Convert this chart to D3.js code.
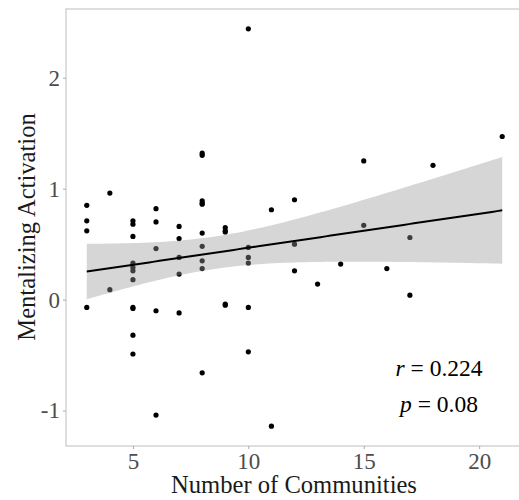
<!DOCTYPE html>
<html>
<head>
  <meta charset="utf-8">
  <title>mentalizing scatter</title>
  <style>
    body { margin: 0; background: #fff; }
    text { font-family: "Liberation Serif", "DejaVu Serif", serif; }
  </style>
</head>
<body>
  <div id="chart"></div>
  <script src="https://cdn.jsdelivr.net/npm/d3@7"></script>
  <script type="text/javascript">
    // number of communities per subject, and mentalizing activation
    var communities = [3, 3, 3, 3,
      4, 4,
      5, 5, 5, 5, 5, 5, 5, 5, 5, 5, 5,
      6, 6, 6, 6, 6,
      7, 7, 7, 7, 7,
      8, 8, 8, 8, 8, 8, 8, 8, 8, 8,
      9, 9, 9, 9, 9,
      10, 10, 10, 10, 10, 10,
      11, 11,
      12, 12, 12,
      13, 14, 15, 15, 16, 17, 17, 18, 21];
    var activation = [0.85, 0.71, 0.62, -0.07,
      0.96, 0.09,
      0.71, 0.68, 0.57, 0.33, 0.29, 0.26, 0.18, -0.07, -0.08, -0.32, -0.49,
      0.82, 0.70, 0.46, -0.10, -1.04,
      0.66, 0.55, 0.38, 0.23, -0.12,
      1.32, 1.30, 0.89, 0.87, 0.86, 0.60, 0.48, 0.35, 0.28, -0.66,
      0.65, 0.62, 0.61, -0.04, -0.05,
      2.44, 0.47, 0.38, 0.33, -0.07, -0.47,
      0.81, -1.14,
      0.90, 0.50, 0.26,
      0.14, 0.32, 1.25, 0.67, 0.28, 0.56, 0.04, 1.21, 1.47];
    var xTicks = [5, 10, 15, 20];
    var yTicks = [-1, 0, 1, 2];
    var statLines = [["r", "0.224"], ["p", "0.08"]];

    var w = 519;
    var h = 500;
    var pLeft = 66, pTop = 9, pBottom = 446, pRight = 523;

    var svg = d3.select("#chart")
      .append("svg")
      .attr("width", w)
      .attr("height", h);

    // ggplot-like 5% expansion
    var xr = d3.extent(communities), yr = d3.extent(activation);
    var xe = (xr[1] - xr[0]) * 0.05, ye = (yr[1] - yr[0]) * 0.05;
    var x = d3.scaleLinear().domain([xr[0] - xe, xr[1] + xe]).range([pLeft, pRight]);
    var y = d3.scaleLinear().domain([yr[0] - ye, yr[1] + ye]).range([pBottom, pTop]);

    // linear fit with 95% confidence band
    var n = communities.length;
    var mx = d3.mean(communities), my = d3.mean(activation);
    var sxx = d3.sum(communities, function(d) { return (d - mx) * (d - mx); });
    var sxy = d3.sum(communities, function(d, i) { return (d - mx) * (activation[i] - my); });
    var b = sxy / sxx, a = my - b * mx;
    var sse = d3.sum(communities, function(d, i) {
      var e = activation[i] - (a + b * d);
      return e * e;
    });
    var s = Math.sqrt(sse / (n - 2));
    var tq = 2.0;
    var fit = d3.range(0, 81).map(function(k) {
      var xv = xr[0] + (xr[1] - xr[0]) * k / 80;
      var yv = a + b * xv;
      var se = s * Math.sqrt(1 / n + (xv - mx) * (xv - mx) / sxx);
      return { x: xv, y: yv, lo: yv - tq * se, hi: yv + tq * se };
    });

    // points first, band drawn over them like geom_smooth
    svg.selectAll("circle")
      .data(communities)
      .enter()
      .append("circle")
      .attr("cx", function(d) { return x(d); })
      .attr("cy", function(d, i) { return y(activation[i]); })
      .attr("r", 2.6)
      .attr("fill", "#000");

    svg.append("path")
      .datum(fit)
      .attr("d", d3.area()
        .x(function(d) { return x(d.x); })
        .y0(function(d) { return y(d.lo); })
        .y1(function(d) { return y(d.hi); }))
      .attr("fill", "#999999")
      .attr("fill-opacity", 0.4);

    svg.append("path")
      .datum(fit)
      .attr("d", d3.line()
        .x(function(d) { return x(d.x); })
        .y(function(d) { return y(d.y); }))
      .attr("fill", "none")
      .attr("stroke", "#000")
      .attr("stroke-width", 2);

    // panel border
    svg.append("rect")
      .attr("x", pLeft)
      .attr("y", pTop)
      .attr("width", pRight - pLeft)
      .attr("height", pBottom - pTop)
      .attr("fill", "none")
      .attr("stroke", "#c8c8c8")
      .attr("stroke-width", 1.2);

    var plain = function(d) { return String(d); };
    var xAxis = svg.append("g")
      .attr("transform", "translate(0," + pBottom + ")")
      .call(d3.axisBottom(x).tickValues(xTicks).tickFormat(plain).tickSize(3).tickPadding(4));
    var yAxis = svg.append("g")
      .attr("transform", "translate(" + pLeft + ",0)")
      .call(d3.axisLeft(y).tickValues(yTicks).tickFormat(plain).tickSize(3).tickPadding(3));

    [xAxis, yAxis].forEach(function(g) {
      g.select(".domain").remove();
      g.selectAll(".tick line").attr("stroke", "#aaa");
      g.selectAll(".tick text")
        .attr("fill", "#4d4d4d")
        .style("font-family", "'Liberation Serif', serif")
        .style("font-size", "23px");
    });

    svg.append("text")
      .text("Number of Communities")
      .attr("x", 294)
      .attr("y", 493)
      .attr("text-anchor", "middle")
      .attr("fill", "#1a1a1a")
      .style("font-size", "24.6px");

    svg.append("text")
      .text("Mentalizing Activation")
      .attr("transform", "translate(35,227) rotate(-90)")
      .attr("text-anchor", "middle")
      .attr("fill", "#1a1a1a")
      .style("font-size", "24.6px");

    svg.selectAll("text.stat")
      .data(statLines)
      .enter()
      .append("text")
      .attr("class", "stat")
      .attr("x", 439)
      .attr("y", function(d, i) { return 376 + i * 36; })
      .attr("text-anchor", "middle")
      .style("font-size", "23.5px")
      .each(function(d) {
        var t = d3.select(this);
        t.append("tspan").style("font-style", "italic").text(d[0]);
        t.append("tspan").text(" = " + d[1]);
      });
  </script>
</body>
</html>
